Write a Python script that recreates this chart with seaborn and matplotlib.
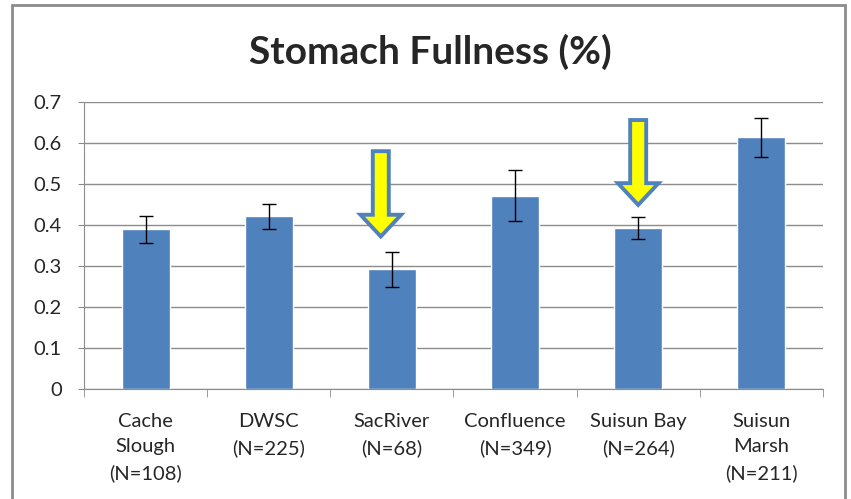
import numpy as np
import pandas as pd
import seaborn as sns
import matplotlib.pyplot as plt
from matplotlib.patches import Rectangle, FancyArrow

sites = ['Cache\nSlough\n(N=108)', 'DWSC\n(N=225)', 'SacRiver\n(N=68)',
         'Confluence\n(N=349)', 'Suisun Bay\n(N=264)', 'Suisun\nMarsh\n(N=211)']
fullness = [0.39, 0.421, 0.292, 0.471, 0.392, 0.614]
err = [0.033, 0.031, 0.043, 0.062, 0.027, 0.047]
# arrows pointing at SacRiver and Suisun Bay (x, top y, tip y)
arrows = [(1.91, 0.58, 0.372), (4.0, 0.656, 0.449)]

sns.set_style('white')
plt.rcParams['font.family'] = ['Lato', 'DejaVu Sans']

df = pd.DataFrame({'site': sites, 'fullness': fullness})

fig = plt.figure(figsize=(8.51, 4.99), dpi=100)
ax = fig.add_axes([0.0987, 0.2204, 0.8683, 0.5752])

sns.barplot(data=df, x='site', y='fullness', color='#4F81BD', saturation=1,
            width=0.39, errorbar=None, ax=ax, zorder=2)
ax.errorbar(np.arange(len(sites)), fullness, yerr=err, fmt='none',
            ecolor='black', elinewidth=1, capsize=5, capthick=1, zorder=3)

for x, top, tip in arrows:
    ar = FancyArrow(x, top, 0, tip - top, width=0.13, head_width=0.33,
                    head_length=0.053, length_includes_head=True,
                    facecolor='#FFFF00', edgecolor='#4F81BD', linewidth=2.8,
                    zorder=4)
    ax.add_patch(ar)

ax.set_ylim(0, 0.7)
ax.set_xlim(-0.5, len(sites) - 0.5)
ax.set_yticks(np.arange(0, 0.71, 0.1))
ax.set_yticklabels(['0', '0.1', '0.2', '0.3', '0.4', '0.5', '0.6', '0.7'])
ax.yaxis.grid(True, color='#8C8C8C', linewidth=1)
ax.set_axisbelow(True)
ax.set_xlabel('')
ax.set_ylabel('')
fig.suptitle('Stomach Fullness (%)', x=0.506, y=0.895, fontsize=28,
             fontweight='bold', va='center')

for s in ['top', 'right']:
    ax.spines[s].set_visible(False)
ax.spines['left'].set_color('#8C8C8C')
ax.spines['bottom'].set_color('#8C8C8C')

ax.tick_params(axis='y', labelsize=14.5, length=4, color='#8C8C8C', left=True, pad=12)
ax.tick_params(axis='x', labelsize=14.5, length=0, pad=17)
ax.set_xticks(np.arange(-0.5, len(sites)), minor=True)
ax.tick_params(axis='x', which='minor', length=6, color='#8C8C8C', bottom=True)
for lbl in ax.get_xticklabels():
    lbl.set_linespacing(1.62)

fig.patches.append(Rectangle((12 / 851, -0.1), 833 / 851, 1.1 - 5 / 499,
                             transform=fig.transFigure, fill=False,
                             edgecolor='#8C8C8C', linewidth=2))

fig.savefig('out.png', dpi=100)
